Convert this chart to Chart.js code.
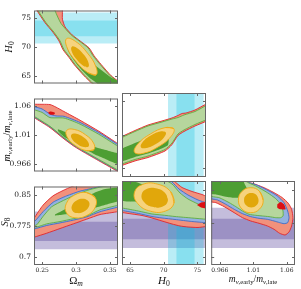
<!DOCTYPE html>
<html>
<head>
<meta charset="utf-8">
<script src="https://cdn.jsdelivr.net/npm/chart.js@4.4.1/dist/chart.umd.min.js"></script>
<style>
  body { margin: 0; background: #fff; }
  #wrap { position: relative; width: 301px; height: 289px; overflow: hidden; font-family: "Liberation Serif", serif; color: #111; }
  canvas { position: absolute; }
  .lab { position: absolute; white-space: nowrap; line-height: 1; }
  .lab sub { font-size: 70%; vertical-align: -0.3em; line-height: 0; }
  .hor { transform: translate(-50%, -50%); font-size: 11px; }
  .rot { transform: translate(-50%, -50%) rotate(-90deg); font-size: 10.5px; }
  .horm { transform: translate(-50%, -50%); font-size: 9.5px; }
  .rotm { transform: translate(-50%, -50%) rotate(-90deg); font-size: 10px; }
</style>
</head>
<body>
<div id="wrap">
  <canvas id="c11"></canvas>
  <canvas id="c21"></canvas>
  <canvas id="c22"></canvas>
  <canvas id="c31"></canvas>
  <canvas id="c32"></canvas>
  <canvas id="c33"></canvas>
  <div class="lab rot" style="left:9px;top:47px"><i>H</i><sub>0</sub></div>
  <div class="lab rotm" style="left:7px;top:136px"><i>m</i><sub><i>ν</i>,early</sub>/<i>m</i><sub><i>ν</i>,late</sub></div>
  <div class="lab rot" style="left:5px;top:222px"><i>S</i><sub>8</sub></div>
  <div class="lab hor" style="left:76px;top:280px">Ω<sub><i>m</i></sub></div>
  <div class="lab hor" style="left:164px;top:280px"><i>H</i><sub>0</sub></div>
  <div class="lab horm" style="left:253px;top:280px"><i>m</i><sub><i>ν</i>,early</sub>/<i>m</i><sub><i>ν</i>,late</sub></div>
</div>
<script>
// ---------- AXES ----------
const omRange = [0.238, 0.362];
const h0Range = [63.8, 76.3];
const mnuRange = [0.954, 1.066];
const s8Range = [0.681, 0.870];

const omTicks = [0.25, 0.3, 0.35];
const omTickLabels = ['0.25', '0.3', '0.35'];
const h0Ticks = [65, 70, 75];
const h0TickLabels = ['65', '70', '75'];
const mnuTicks = [0.9655, 1.0103, 1.055];
const mnuTickLabels = ['0.966', '1.01', '1.06'];
const s8Ticks = [0.7, 0.775, 0.85];
const s8TickLabels = ['0.7', '0.775', '0.85'];

// ---------- PRIOR BANDS (1 and 2 sigma) ----------
const h0Band1 = [71.9, 74.6];
const h0Band2 = [70.65, 75.95];
const s8Band1 = [0.739, 0.785];
const s8Band2 = [0.719, 0.810];

// ---------- CONTOURS : Omega_m - H0 ----------
const omH0Red2 = [[0.2365,77.79],[0.2424,76.30],[0.2542,74.22],[0.2660,72.58],[0.2749,71.09],[0.2808,69.60],[0.2897,68.26],[0.2971,67.07],[0.3118,65.14],[0.3236,63.80],[0.3340,62.46],
  [0.3872,62.46],[0.3636,64.10],[0.3518,65.14],[0.3370,67.07],[0.3266,68.56],[0.3193,69.90],[0.3060,71.09],[0.2942,72.13],[0.2838,73.50],[0.2800,74.80],[0.2800,76.30],[0.2800,77.79]];
const omH0Green2 = [[0.2380,77.79],[0.2439,76.30],[0.2557,74.22],[0.2675,72.58],[0.2764,71.09],[0.2823,69.60],[0.2912,68.26],[0.2986,67.07],[0.3133,65.14],[0.3251,63.80],[0.3355,62.46],
  [0.3857,62.46],[0.3621,64.10],[0.3503,65.14],[0.3355,67.07],[0.3251,68.56],[0.3178,69.90],[0.3045,71.09],[0.2927,72.13],[0.2779,74.07],[0.2690,76.30],[0.2661,77.79]];
const omH0Green1 = [[0.2882,70.35],[0.3030,69.31],[0.3148,68.26],[0.3266,67.07],[0.3384,66.03],[0.3517,64.84],[0.3621,64.25],[0.3783,63.21],[0.3783,62.16],
  [0.3384,62.16],[0.3311,63.80],[0.3207,64.69],[0.3104,65.88],[0.3015,67.07],[0.2941,68.26],[0.2882,69.46]];
const omH0Yel2 = [[0.3295,65.25],[0.3296,66.61],[0.3169,69.01],[0.2990,71.03],[0.2862,71.49],[0.2862,70.13],[0.2988,67.73],[0.3167,65.71]];
const omH0Yel1 = [[0.3180,66.62],[0.3183,67.41],[0.3114,68.75],[0.3013,69.87],[0.2939,70.11],[0.2936,69.33],[0.3005,67.99],[0.3106,66.86]];

// ---------- CONTOURS : Omega_m - mnu ratio ----------
const omMnuRed2 = [[0.2306,1.0593],[0.2380,1.0573],[0.2616,1.0567],[0.2705,1.0527],[0.2823,1.0460],[0.3059,1.0327],[0.3355,1.0147],[0.3621,0.9967],[0.3739,0.9913],
  [0.3739,0.9480],[0.3621,0.9540],[0.3355,0.9694],[0.3119,0.9834],[0.2971,0.9927],[0.2823,1.0040],[0.2616,1.0213],[0.2380,1.0367],[0.2306,1.0400]];
const omMnuBlue2 = [[0.2306,1.0540],[0.2380,1.0533],[0.2498,1.0500],[0.2616,1.0420],[0.2705,1.0393],[0.2823,1.0387],[0.3059,1.0293],[0.3355,1.0127],[0.3621,0.9953],[0.3739,0.9900],
  [0.3739,0.9494],[0.3621,0.9554],[0.3355,0.9707],[0.3119,0.9847],[0.2971,0.9940],[0.2823,1.0053],[0.2616,1.0227],[0.2380,1.0380],[0.2306,1.0413]];
const omMnuGreen2 = [[0.2306,1.0493],[0.2380,1.0487],[0.2498,1.0447],[0.2616,1.0367],[0.2823,1.0360],[0.3059,1.0267],[0.3355,1.0100],[0.3621,0.9927],[0.3739,0.9873],
  [0.3739,0.9500],[0.3621,0.9560],[0.3355,0.9714],[0.3119,0.9854],[0.2971,0.9947],[0.2823,1.0060],[0.2616,1.0233],[0.2380,1.0387],[0.2306,1.0420]];
const omMnuGreen1 = [[0.2734,1.0187],[0.2823,1.0153],[0.3000,1.0060],[0.3178,0.9967],[0.3325,0.9900],[0.3473,0.9860],[0.3621,0.9820],[0.3739,0.9780],
  [0.3739,0.9567],[0.3621,0.9647],[0.3473,0.9713],[0.3325,0.9780],[0.3178,0.9860],[0.3000,0.9967],[0.2823,1.0073],[0.2734,1.0160]];
const omMnuRed1 = [[0.2587,1.0447],[0.2631,1.0460],[0.2690,1.0440],[0.2675,1.0413],[0.2616,1.0413]];
const omMnuYel2 = [[0.3265,0.9875],[0.3259,0.9976],[0.3139,1.0105],[0.2974,1.0186],[0.2863,1.0171],[0.2869,1.0069],[0.2989,0.9940],[0.3153,0.9860]];
const omMnuYel1 = [[0.3185,0.9924],[0.3181,0.9987],[0.3106,1.0068],[0.3003,1.0118],[0.2934,1.0109],[0.2938,1.0045],[0.3013,0.9965],[0.3115,0.9914]];

// ---------- CONTOURS : H0 - mnu ratio ----------
const h0MnuRed2 = [[63.06,1.0047],[63.80,1.0080],[65.73,1.0160],[67.67,1.0233],[69.75,1.0287],[71.24,1.0327],[72.13,1.0360],[72.73,1.0387],[73.32,1.0393],[74.66,1.0433],[76.45,1.0520],[77.49,1.0573],
  [77.49,1.0333],[76.45,1.0287],[74.66,1.0220],[73.03,1.0147],[72.13,1.0093],[71.24,0.9973],[70.20,0.9887],[67.67,0.9800],[65.73,0.9754],[63.80,0.9694],[63.06,0.9667]];
const h0MnuGreen2 = [[63.06,1.0033],[63.80,1.0067],[65.73,1.0147],[67.67,1.0220],[69.75,1.0273],[71.24,1.0313],[72.13,1.0333],[73.03,1.0367],[74.66,1.0413],[76.45,1.0500],[77.49,1.0553],
  [77.49,1.0353],[76.45,1.0307],[74.66,1.0240],[73.03,1.0167],[72.13,1.0113],[71.24,0.9993],[70.20,0.9907],[67.67,0.9820],[65.73,0.9774],[63.80,0.9714],[63.06,0.9687]];
const h0MnuGreen1 = [[63.06,0.9900],[63.80,0.9920],[65.73,0.9993],[67.67,1.0060],[69.16,1.0100],[70.64,1.0127],
  [70.64,0.9967],[69.16,0.9900],[67.67,0.9853],[65.73,0.9807],[63.80,0.9747],[63.06,0.9720]];
const h0MnuYel2 = [[71.52,1.0184],[71.07,1.0078],[69.17,0.9941],[66.92,0.9855],[65.66,0.9869],[66.11,0.9976],[68.02,1.0113],[70.26,1.0199]];
const h0MnuYel1 = [[70.31,1.0137],[70.04,1.0067],[68.84,0.9980],[67.42,0.9927],[66.61,0.9938],[66.88,1.0008],[68.08,1.0095],[69.50,1.0148]];

// ---------- CONTOURS : Omega_m - S8 ----------
const omS8Red2 = [[0.2306,0.7688],[0.2380,0.7928],[0.2513,0.8250],[0.2661,0.8475],[0.2808,0.8603],[0.2941,0.8700],[0.3119,0.8813],[0.3709,0.8925],
  [0.3709,0.8160],[0.3625,0.8099],[0.3355,0.8025],[0.3158,0.7913],[0.2960,0.7800],[0.2764,0.7688],[0.2568,0.7575],[0.2380,0.7478],[0.2306,0.7440]];
const omS8Blue2 = [[0.2306,0.7800],[0.2380,0.7845],[0.2517,0.8099],[0.2665,0.8324],[0.2863,0.8475],[0.3059,0.8588],[0.3256,0.8662],[0.3443,0.8745],[0.3709,0.8835],
  [0.3709,0.8228],[0.3625,0.8205],[0.3355,0.8093],[0.3158,0.7969],[0.2960,0.7890],[0.2764,0.7823],[0.2568,0.7762],[0.2380,0.7676],[0.2306,0.7665]];
const omS8Green2 = [[0.2350,0.7744],[0.2420,0.7778],[0.2517,0.7987],[0.2641,0.8212],[0.2813,0.8363],[0.3011,0.8513],[0.3207,0.8626],[0.3404,0.8700],[0.3625,0.8738],[0.3709,0.8745],
  [0.3709,0.8273],[0.3625,0.8250],[0.3355,0.8138],[0.3158,0.7991],[0.2960,0.7924],[0.2764,0.7856],[0.2568,0.7800],[0.2420,0.7726]];
const omS8Green1 = [[0.2690,0.8025],[0.2823,0.8138],[0.2971,0.8295],[0.3119,0.8430],[0.3266,0.8543],[0.3414,0.8633],[0.3625,0.8678],[0.3709,0.8700],
  [0.3709,0.8340],[0.3625,0.8340],[0.3414,0.8250],[0.3266,0.8183],[0.3119,0.8115],[0.2971,0.8059],[0.2823,0.8025],[0.2690,0.8003]];
const omS8Yel2 = [[0.3282,0.8436],[0.3286,0.8209],[0.3164,0.8006],[0.2987,0.7947],[0.2860,0.8064],[0.2857,0.8291],[0.2979,0.8494],[0.3155,0.8554]];
const omS8Yel1 = [[0.3188,0.8339],[0.3189,0.8211],[0.3119,0.8096],[0.3017,0.8060],[0.2945,0.8125],[0.2944,0.8253],[0.3015,0.8368],[0.3116,0.8404]];

// ---------- CONTOURS : H0 - S8 ----------
const h0S8Red2 = [[63.06,0.9038],[70.50,0.8813],[71.54,0.8700],[72.73,0.8554],[74.22,0.8464],[75.70,0.8396],[76.45,0.8351],[77.49,0.8295],
  [77.49,0.7676],[76.40,0.7676],[75.11,0.7654],[73.62,0.7665],[72.43,0.7688],[71.24,0.7733],[69.75,0.7800],[68.26,0.7868],[66.78,0.7924],[65.29,0.7958],[63.80,0.7991],[63.06,0.8003]];
const h0S8Blue2 = [[63.06,0.8880],[70.05,0.8813],[71.24,0.8678],[72.28,0.8520],[73.62,0.8385],[75.11,0.8273],[76.45,0.8205],[77.49,0.8171],
  [77.49,0.7755],[76.40,0.7762],[74.17,0.7789],[71.69,0.7834],[69.75,0.7868],[68.26,0.7901],[66.23,0.7969],[63.80,0.8036],[63.06,0.8048]];
const h0S8Green2 = [[63.06,0.8813],[69.75,0.8745],[71.24,0.8633],[72.43,0.8430],[73.62,0.8295],[75.11,0.8183],[76.45,0.8104],[77.49,0.8070],
  [77.49,0.7823],[76.40,0.7838],[74.17,0.7868],[71.69,0.7901],[69.75,0.7935],[68.26,0.7958],[66.23,0.8025],[63.80,0.8093],[63.06,0.8104]];
const h0S8Green1 = [[63.06,0.8768],[64.54,0.8723],[65.88,0.8678],[67.07,0.8610],[68.26,0.8520],[69.75,0.8385],[70.94,0.8250],
  [70.94,0.8115],[69.45,0.8160],[67.97,0.8205],[66.18,0.8228],[64.69,0.8239],[63.80,0.8250],[63.06,0.8261]];
const h0S8Red1 = [[74.96,0.8160],[75.56,0.8216],[76.45,0.8228],[77.49,0.8228],[77.49,0.8070],[76.45,0.8081],[75.56,0.8104]];
const h0S8Yel2 = [[71.54,0.8205],[70.29,0.8025],[68.05,0.8020],[66.13,0.8194],[65.65,0.8444],[66.89,0.8624],[69.13,0.8628],[71.06,0.8455]];
const h0S8Yel1 = [[70.61,0.8246],[69.78,0.8123],[68.30,0.8118],[67.04,0.8234],[66.73,0.8403],[67.55,0.8526],[69.03,0.8531],[70.30,0.8415]];

// ---------- CONTOURS : mnu ratio - S8 ----------
const mnuS8Red2 = [[0.9513,0.8963],[0.9958,0.8963],[0.9958,0.8700],[1.0091,0.8648],[1.0247,0.8550],[1.0380,0.8438],[1.0491,0.8325],[1.0571,0.8198],[1.0615,0.8063],[1.0633,0.7875],[1.0615,0.7688],[1.0580,0.7553],[1.0527,0.7485],
  [1.0455,0.7523],[1.0380,0.7613],[1.0291,0.7688],[1.0180,0.7748],[1.0069,0.7800],[0.9958,0.7875],[0.9847,0.7988],[0.9713,0.8123],[0.9602,0.8213],[0.9513,0.8250]];
const mnuS8Blue2 = [[0.9513,0.8963],[1.0002,0.8963],[1.0011,0.8700],[1.0158,0.8603],[1.0313,0.8475],[1.0424,0.8363],[1.0513,0.8213],[1.0562,0.8025],[1.0580,0.7875],[1.0562,0.7763],[1.0513,0.7740],
  [1.0455,0.7763],[1.0380,0.7800],[1.0291,0.7838],[1.0180,0.7860],[1.0069,0.7898],[0.9958,0.7965],[0.9847,0.8063],[0.9736,0.8175],[0.9624,0.8273],[0.9513,0.8325]];
const mnuS8Green2 = [[0.9513,0.8963],[0.9980,0.8963],[1.0002,0.8700],[1.0136,0.8588],[1.0291,0.8438],[1.0402,0.8303],[1.0469,0.8175],[1.0500,0.8025],[1.0500,0.7913],[1.0469,0.7875],
  [1.0402,0.7875],[1.0313,0.7898],[1.0224,0.7913],[1.0136,0.7928],[1.0047,0.7950],[0.9958,0.8025],[0.9869,0.8123],[0.9780,0.8213],[0.9647,0.8325],[0.9513,0.8378]];
const mnuS8Green1 = [[0.9513,0.8963],[0.9936,0.8963],[0.9980,0.8663],[1.0024,0.8513],[1.0047,0.8363],[0.9958,0.8325],[0.9824,0.8325],[0.9691,0.8363],[0.9580,0.8400],[0.9513,0.8423]];
const mnuS8Red1 = [[1.0424,0.8175],[1.0469,0.8228],[1.0513,0.8175],[1.0535,0.8063],[1.0469,0.8063],[1.0424,0.8100]];
const mnuS8Yel2 = [[1.0235,0.8268],[1.0186,0.8069],[1.0069,0.7987],[0.9952,0.8069],[0.9904,0.8268],[0.9952,0.8467],[1.0069,0.8549],[1.0186,0.8467]];
const mnuS8Yel1 = [[1.0173,0.8268],[1.0145,0.8152],[1.0076,0.8104],[1.0007,0.8152],[0.9979,0.8268],[1.0007,0.8384],[1.0076,0.8432],[1.0145,0.8384]];

// ---------- STYLES ----------
const looks = {
  red2:   {fill: '#f2917c', edge: '#e0262b'},
  red1:   {fill: '#dc0f12', edge: null},
  blue2:  {fill: '#93b1e0', edge: '#3d6cc8'},
  green2: {fill: '#b6d69d', edge: '#5fae3e'},
  green1: {fill: '#4d9e33', edge: null},
  yel2:   {fill: '#f6d37e', edge: '#efaa14'},
  yel1:   {fill: '#e1a70b', edge: null}
};
const cyan = 'rgba(0,190,220,0.27)';
const purple = 'rgba(75,55,150,0.33)';

const axes = {
  om:  {range: omRange,  ticks: omTicks,  labels: omTickLabels},
  h0:  {range: h0Range,  ticks: h0Ticks,  labels: h0TickLabels},
  mnu: {range: mnuRange, ticks: mnuTicks, labels: mnuTickLabels},
  s8:  {range: s8Range,  ticks: s8Ticks,  labels: s8TickLabels}
};

const colLeft = [34, 122, 211];
const rowTop = [5, 93, 181];
const SIZE = 84;

const panels = [
  {id: 'c11', col: 0, row: 0, x: 'om', y: 'h0',
   bands: [['h', h0Band2, cyan], ['h', h0Band1, cyan]],
   layers: [['red2', omH0Red2], ['green2', omH0Green2], ['green1', omH0Green1], ['yel2', omH0Yel2], ['yel1', omH0Yel1]]},
  {id: 'c21', col: 0, row: 1, x: 'om', y: 'mnu',
   bands: [],
   layers: [['red2', omMnuRed2], ['blue2', omMnuBlue2], ['green2', omMnuGreen2], ['green1', omMnuGreen1], ['red1', omMnuRed1], ['yel2', omMnuYel2], ['yel1', omMnuYel1]]},
  {id: 'c22', col: 1, row: 1, x: 'h0', y: 'mnu',
   bands: [['v', h0Band2, cyan], ['v', h0Band1, cyan]],
   layers: [['red2', h0MnuRed2], ['green2', h0MnuGreen2], ['green1', h0MnuGreen1], ['yel2', h0MnuYel2], ['yel1', h0MnuYel1]]},
  {id: 'c31', col: 0, row: 2, x: 'om', y: 's8',
   bands: [['h', s8Band2, purple], ['h', s8Band1, purple]],
   layers: [['red2', omS8Red2], ['blue2', omS8Blue2], ['green2', omS8Green2], ['green1', omS8Green1], ['yel2', omS8Yel2], ['yel1', omS8Yel1]]},
  {id: 'c32', col: 1, row: 2, x: 'h0', y: 's8',
   bands: [['h', s8Band2, purple], ['h', s8Band1, purple], ['v', h0Band2, cyan], ['v', h0Band1, cyan]],
   layers: [['red2', h0S8Red2], ['blue2', h0S8Blue2], ['green2', h0S8Green2], ['green1', h0S8Green1], ['red1', h0S8Red1], ['yel2', h0S8Yel2], ['yel1', h0S8Yel1]]},
  {id: 'c33', col: 2, row: 2, x: 'mnu', y: 's8',
   bands: [['h', s8Band2, purple], ['h', s8Band1, purple]],
   layers: [['red2', mnuS8Red2], ['blue2', mnuS8Blue2], ['green2', mnuS8Green2], ['green1', mnuS8Green1], ['red1', mnuS8Red1], ['yel2', mnuS8Yel2], ['yel1', mnuS8Yel1]]}
];

// ---------- FRAME + INWARD TICKS ----------
const frameTicks = {
  id: 'frameTicks',
  afterDraw(chart, args, opts) {
    const {ctx, chartArea: a} = chart;
    const sx = chart.scales.x, sy = chart.scales.y;
    ctx.save();
    ctx.strokeStyle = '#666';
    ctx.lineWidth = 1;
    ctx.beginPath();
    opts.xTicks.forEach(v => {
      const px = Math.round(sx.getPixelForValue(v)) + 0.5;
      ctx.moveTo(px, a.bottom); ctx.lineTo(px, a.bottom - 3);
      ctx.moveTo(px, a.top); ctx.lineTo(px, a.top + 3);
    });
    opts.yTicks.forEach(v => {
      const py = Math.round(sy.getPixelForValue(v)) + 0.5;
      ctx.moveTo(a.left, py); ctx.lineTo(a.left + 3, py);
      ctx.moveTo(a.right, py); ctx.lineTo(a.right - 3, py);
    });
    ctx.stroke();
    ctx.strokeRect(a.left + 0.5, a.top + 0.5, a.width - 1, a.height - 1);
    ctx.restore();
  }
};

function toXY(pts) { return pts.map(p => ({x: p[0], y: p[1]})); }

function bandShape(dir, r, xr, yr) {
  return dir === 'h'
    ? [[xr[0], r[0]], [xr[1], r[0]], [xr[1], r[1]], [xr[0], r[1]], [xr[0], r[0]]]
    : [[r[0], yr[0]], [r[1], yr[0]], [r[1], yr[1]], [r[0], yr[1]], [r[0], yr[0]]];
}

panels.forEach(p => {
  const ax = axes[p.x], ay = axes[p.y];
  const padL = p.col === 0 ? 34 : 2;
  const padB = p.row === 2 ? 13 : 2;
  const padT = 2, padR = 2;

  const cv = document.getElementById(p.id);
  cv.width = SIZE + padL + padR;
  cv.height = SIZE + padT + padB;
  cv.style.left = (colLeft[p.col] - padL) + 'px';
  cv.style.top = (rowTop[p.row] - padT) + 'px';

  const sets = [];
  p.bands.forEach(b => {
    sets.push({data: toXY(bandShape(b[0], b[1], ax.range, ay.range)), showLine: true, fill: 'shape',
      backgroundColor: b[2], borderWidth: 0, pointRadius: 0, tension: 0});
  });
  p.layers.forEach(([kind, pts]) => {
    const look = looks[kind];
    const isEll = kind === 'yel2' || kind === 'yel1';
    const path = isEll ? [pts[pts.length - 1], ...pts, pts[0]] : [...pts, pts[0]];
    sets.push({data: toXY(path), showLine: true, fill: 'shape',
      backgroundColor: look.fill,
      borderColor: look.edge || 'rgba(0,0,0,0)',
      borderWidth: look.edge ? 0.9 : 0,
      pointRadius: 0,
      tension: isEll ? 0.45 : 0.2,
      capBezierPoints: false});
  });
  sets.forEach((d, i) => { d.order = -i; });

  new Chart(cv, {
    type: 'scatter',
    data: {datasets: sets},
    options: {
      responsive: false,
      animation: false,
      events: [],
      layout: {padding: {top: padT, right: padR, left: 0, bottom: 0}},
      plugins: {
        legend: {display: false},
        tooltip: {enabled: false},
        frameTicks: {xTicks: ax.ticks, yTicks: ay.ticks}
      },
      scales: {
        x: {
          type: 'linear', min: ax.range[0], max: ax.range[1],
          afterBuildTicks: s => { s.ticks = ax.ticks.map(v => ({value: v})); },
          afterFit: s => { s.height = padB; },
          grid: {display: false, drawTicks: false},
          border: {display: false},
          ticks: {display: p.row === 2, autoSkip: false, maxRotation: 0, padding: 2,
                  color: '#1a1a1a', font: {family: 'DejaVu Serif', size: 6},
                  callback: (v, i) => ax.labels[i]}
        },
        y: {
          type: 'linear', min: ay.range[0], max: ay.range[1],
          afterBuildTicks: s => { s.ticks = ay.ticks.map(v => ({value: v})); },
          afterFit: s => { s.width = padL; },
          grid: {display: false, drawTicks: false},
          border: {display: false},
          ticks: {display: p.col === 0, autoSkip: false, padding: 3,
                  color: '#1a1a1a', font: {family: 'DejaVu Serif', size: 7.5},
                  callback: (v, i) => ay.labels[i]}
        }
      }
    },
    plugins: [frameTicks]
  });
});
</script>
</body>
</html>
